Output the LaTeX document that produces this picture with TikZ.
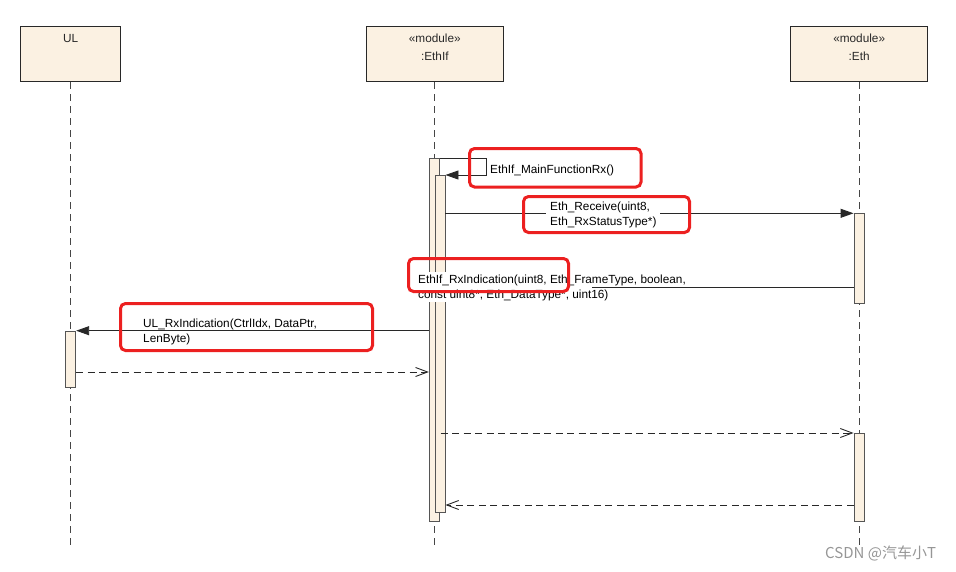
\documentclass[tikz,border=0pt]{standalone}
\usepackage{fontspec}
\setmainfont{Liberation Sans}
\newfontfamily\cjkfont{Noto Sans CJK SC}
\usetikzlibrary{arrows.meta}
\definecolor{cream}{RGB}{251,241,226}
\definecolor{hlred}{RGB}{236,32,32}
\definecolor{ink}{RGB}{40,40,40}
\definecolor{barline}{RGB}{85,85,85}
\definecolor{lifeg}{RGB}{70,70,70}
\definecolor{wmgray}{RGB}{150,150,150}
\newcommand\lblfont{\fontsize{11.8}{15}\selectfont}
\begin{document}
\begin{tikzpicture}[x=1pt,y=-1pt,
  obj/.style={draw=ink, fill=cream, line width=0.9pt, minimum height=55.7pt, inner sep=0pt},
  boxtxt/.style={font=\lblfont, text=ink, inner sep=0pt},
  bar/.style={draw=barline, fill=cream, line width=0.9pt, minimum width=10pt, inner sep=0pt, anchor=north},
  life/.style={draw=lifeg, line width=0.9pt, dash pattern=on 7pt off 5pt},
  msg/.style={draw=ink, line width=0.9pt, -{Triangle[length=13pt,width=9pt]}},
  ret/.style={draw=ink, line width=0.9pt, dash pattern=on 7pt off 4.5pt, -{Straight Barb[length=12pt,width=9pt]}},
  lbl/.style={font=\lblfont, text=black, align=left, anchor=base west, inner sep=0pt},
  hl/.style={draw=hlred, line width=3pt, rounded corners=5pt},
  wm/.style={font=\cjkfont\fontsize{15}{17}\selectfont, text=wmgray, inner sep=0pt}
]
\useasboundingbox (0,0) rectangle (956,571);
\coordinate (bottom) at (0,545);

% objects
\node[obj, minimum width=100pt] (ul) at (70.7,53.8) {};
\node[obj, minimum width=137.3pt] (ethif) at (434.8,53.8) {};
\node[obj, minimum width=137pt] (eth) at (859.2,53.8) {};
\node[boxtxt] (ultx) at (70.7,38) {UL};
\node[boxtxt] (ethifst) at (434.8,38) {«module»};
\node[boxtxt] (ethifnm) at (434.8,56) {:EthIf};
\node[boxtxt] (ethst) at (859.2,38) {«module»};
\node[boxtxt] (ethnm) at (859.2,56) {:Eth};

% lifelines
\draw[life] (ul.south) -- (ul.south |- bottom);
\draw[life] (ethif.south) -- (ethif.south |- bottom);
\draw[life] (eth.south) -- (eth.south |- bottom);

% activation bars
\node[bar, minimum height=56.3pt] (ulbar) at (70.7,330.7) {};
\node[bar, minimum height=363pt] (outer) at (434.3,158) {};
\node[bar, minimum height=337pt] (inner) at (440,175) {};
\node[bar, minimum height=90pt] (eth1) at (859,213.3) {};
\node[bar, minimum height=88pt] (eth2) at (859,433) {};

% messages
\coordinate (lv3) at (0,287);
\coordinate (lv5) at (0,372);
\coordinate (lv6) at (440.5,433);
\coordinate (lv7) at (0,505);
\draw[msg] (outer.north east) -- ++(47,0) |- (inner.north east);
\draw[msg] (inner.east |- eth1.north) -- (eth1.north west);
\draw[msg] (eth1.west |- lv3) -- (inner.east |- lv3);
\draw[msg] (outer.west |- ulbar.north) -- (ulbar.north east);
\draw[ret] (ulbar.east |- lv5) -- (outer.west |- lv5);
\draw[ret] (lv6) -- (eth2.north west);
\draw[ret] (eth2.west |- lv7) -- (inner.east |- lv7);

% labels
\node[lbl] (l1) at (490,173) {EthIf\_MainFunctionRx()};
\node[lbl, fill=white, inner xsep=4pt, inner ysep=2pt] (l2) at (546,225.5) {Eth\_Receive(uint8,\\Eth\_RxStatusType*)};
\fill[white] (413,272) rectangle (592,302);
\node[lbl] (l3) at (418,298) {EthIf\_RxIndication(uint8, Eth\_FrameType, boolean,\\const uint8*, Eth\_DataType*, uint16)};
\node[lbl] (l4) at (143,342) {UL\_RxIndication(CtrlIdx, DataPtr,\\LenByte)};

% red highlight boxes
\draw[hl] (469.5,148.5) rectangle (641,187);
\draw[hl] (523.5,196.5) rectangle (689.5,232.5);
\draw[hl] (408.5,258.5) rectangle (568.5,291.5);
\draw[hl] (120.5,303.5) rectangle (372.5,350.5);

% watermark
\node[wm, anchor=west] (wmk) at (825,553) {CSDN @汽车小T};
\end{tikzpicture}
\end{document}
